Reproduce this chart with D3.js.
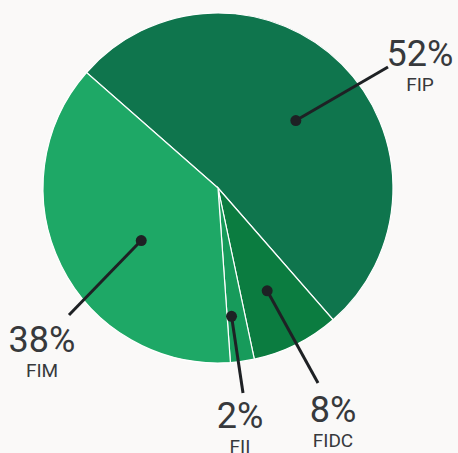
<!DOCTYPE html>
<meta charset="utf-8">
<style>
body { margin: 0; background: #faf9f8; }
.pct { font: 36px Roboto, sans-serif; fill: #37393c; text-anchor: middle; }
.name { font: 19px Roboto, sans-serif; fill: #37393c; text-anchor: middle; }
</style>
<body>
<script src="https://cdn.jsdelivr.net/npm/d3@7"></script>
<script>

// data (shares; labels show rounded values)
var categories = ["FIP", "FIDC", "FII", "FIM"];
var shares = [52.1, 8.1, 2.2, 37.6];
var colors = ["#0f754d", "#0b7c40", "#179b5b", "#1ea866"];

// layout (per slice: dot radius, dot angle shift in deg, line end & label offset from centre)
var layout = {
  FIP:  { r: 103, shift: 4,  end: [170, -121], label: [202, -122] },
  FIDC: { r: 114, shift: 1,  end: [100, 195],  label: [115, 234] },
  FII:  { r: 129, shift: 2,  end: [25, 205],   label: [22, 240] },
  FIM:  { r: 93,  shift: -8, end: [-149, 127], label: [-176, 164] }
};

var width = 458, height = 453, cx = 218, cy = 188, radius = 175;

var data = categories.map(function(c, i) { return { name: c, value: shares[i], color: colors[i] }; });

var pie = d3.pie()
    .sort(null)
    .value(function(d) { return d.value; })
    .startAngle(-48.7 * Math.PI / 180)
    .endAngle((360 - 48.7) * Math.PI / 180);

var arc = d3.arc().innerRadius(0).outerRadius(radius);

var svg = d3.select("body").append("svg")
    .attr("width", width)
    .attr("height", height)
  .append("g")
    .attr("transform", "translate(" + cx + "," + cy + ")");

var arcs = pie(data);

svg.selectAll(".slice").data(arcs).enter().append("path")
    .attr("class", "slice")
    .attr("d", arc)
    .attr("fill", function(d) { return d.data.color; })
    .attr("stroke", "#ffffff")
    .attr("stroke-width", 1.2);

function dotPos(d) {
  var l = layout[d.data.name];
  var a = (d.startAngle + d.endAngle) / 2 + l.shift * Math.PI / 180;
  return [l.r * Math.sin(a), -l.r * Math.cos(a)];
}

var g = svg.selectAll(".lab").data(arcs).enter().append("g").attr("class", "lab");

g.append("line")
    .attr("x1", function(d) { return dotPos(d)[0]; })
    .attr("y1", function(d) { return dotPos(d)[1]; })
    .attr("x2", function(d) { return layout[d.data.name].end[0]; })
    .attr("y2", function(d) { return layout[d.data.name].end[1]; })
    .attr("stroke", "#1e2124")
    .attr("stroke-width", 3);

g.append("circle")
    .attr("cx", function(d) { return dotPos(d)[0]; })
    .attr("cy", function(d) { return dotPos(d)[1]; })
    .attr("r", 5.5)
    .attr("fill", "#1e2124");

g.append("text")
    .attr("class", "pct")
    .attr("x", function(d) { return layout[d.data.name].label[0]; })
    .attr("y", function(d) { return layout[d.data.name].label[1]; })
    .text(function(d) { return Math.round(d.data.value) + "%"; });

g.append("text")
    .attr("class", "name")
    .attr("x", function(d) { return layout[d.data.name].label[0]; })
    .attr("y", function(d) { return layout[d.data.name].label[1] + 25; })
    .text(function(d) { return d.data.name; });

</script>
</body>
